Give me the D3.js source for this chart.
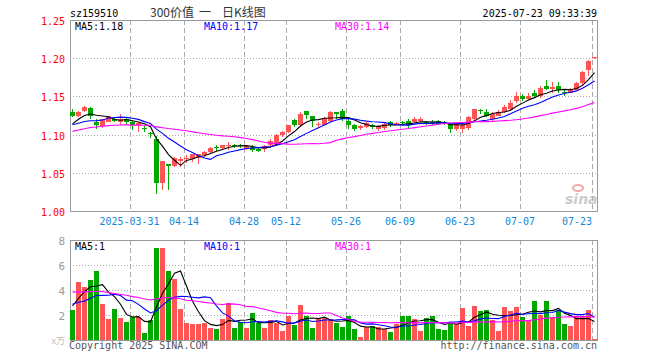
<!DOCTYPE html>
<html>
<head>
<meta charset="utf-8">
<script src="https://cdn.jsdelivr.net/npm/d3@7"></script>
<style>
  body { margin: 0; background: #fff; }
  svg { display: block; }
</style>
</head>
<body>
<div id="chart"></div>
<script>
// trading days shown, 2025-03-17 .. 2025-07-23
const dates = [
  "2025-03-17","2025-03-18","2025-03-19","2025-03-20","2025-03-21","2025-03-24","2025-03-25","2025-03-26","2025-03-27","2025-03-28",
  "2025-03-31","2025-04-01","2025-04-02","2025-04-03","2025-04-07","2025-04-08","2025-04-09","2025-04-10","2025-04-11","2025-04-14",
  "2025-04-15","2025-04-16","2025-04-17","2025-04-18","2025-04-21","2025-04-22","2025-04-23","2025-04-24","2025-04-25","2025-04-28",
  "2025-04-29","2025-04-30","2025-05-06","2025-05-07","2025-05-08","2025-05-09","2025-05-12","2025-05-13","2025-05-14","2025-05-15",
  "2025-05-16","2025-05-19","2025-05-20","2025-05-21","2025-05-22","2025-05-23","2025-05-26","2025-05-27","2025-05-28","2025-05-29",
  "2025-05-30","2025-06-03","2025-06-04","2025-06-05","2025-06-06","2025-06-09","2025-06-10","2025-06-11","2025-06-12","2025-06-13",
  "2025-06-16","2025-06-17","2025-06-18","2025-06-19","2025-06-20","2025-06-23","2025-06-24","2025-06-25","2025-06-26","2025-06-27",
  "2025-06-30","2025-07-01","2025-07-02","2025-07-03","2025-07-04","2025-07-07","2025-07-08","2025-07-09","2025-07-10","2025-07-11",
  "2025-07-14","2025-07-15","2025-07-16","2025-07-17","2025-07-18","2025-07-21","2025-07-22","2025-07-23"
]

const opens = [
  1.130,1.125,1.131,1.135,1.116,1.111,1.117,1.120,1.117,1.120,
  1.117,1.112,1.108,1.102,1.094,1.037,1.061,1.059,1.065,1.068,
  1.068,1.069,1.073,1.077,1.084,1.082,1.085,1.087,1.086,1.081,
  1.084,1.081,1.081,1.086,1.086,1.100,1.103,1.119,1.113,1.131,
  1.124,1.113,1.113,1.118,1.130,1.131,1.118,1.113,1.108,1.110,
  1.113,1.107,1.108,1.117,1.114,1.116,1.118,1.116,1.118,1.117,
  1.117,1.118,1.117,1.114,1.107,1.107,1.108,1.120,1.132,1.130,
  1.120,1.125,1.130,1.134,1.144,1.151,1.146,1.155,1.151,1.164,
  1.160,1.164,1.156,1.155,1.159,1.168,1.185,1.200
]
const highs = [
  1.133,1.131,1.138,1.136,1.121,1.121,1.125,1.123,1.127,1.122,
  1.118,1.117,1.111,1.104,1.098,1.065,1.061,1.071,1.071,1.073,
  1.075,1.075,1.078,1.084,1.086,1.087,1.090,1.088,1.088,1.086,
  1.086,1.082,1.087,1.094,1.101,1.105,1.113,1.120,1.130,1.131,
  1.125,1.117,1.123,1.131,1.130,1.133,1.120,1.114,1.112,1.117,
  1.114,1.112,1.117,1.118,1.116,1.118,1.120,1.123,1.123,1.118,
  1.119,1.119,1.118,1.115,1.115,1.114,1.125,1.134,1.134,1.134,
  1.129,1.132,1.139,1.145,1.156,1.153,1.155,1.158,1.164,1.172,
  1.169,1.169,1.160,1.161,1.169,1.183,1.198,1.202
]
const lows = [
  1.123,1.123,1.130,1.120,1.107,1.109,1.116,1.116,1.113,1.113,
  1.106,1.104,1.103,1.095,1.022,1.028,1.028,1.057,1.058,1.063,
  1.064,1.061,1.071,1.076,1.078,1.080,1.080,1.083,1.082,1.080,
  1.077,1.077,1.077,1.083,1.085,1.097,1.102,1.110,1.111,1.121,
  1.110,1.108,1.112,1.117,1.121,1.118,1.107,1.105,1.106,1.109,
  1.107,1.105,1.106,1.110,1.112,1.112,1.109,1.115,1.116,1.113,
  1.113,1.112,1.113,1.102,1.105,1.102,1.106,1.118,1.127,1.123,
  1.118,1.124,1.128,1.131,1.142,1.144,1.145,1.148,1.148,1.158,
  1.155,1.154,1.151,1.154,1.158,1.164,1.177,1.199
]
const closes = [
  1.125,1.129,1.136,1.125,1.112,1.120,1.124,1.118,1.120,1.117,
  1.112,1.115,1.107,1.101,1.037,1.065,1.059,1.070,1.068,1.069,
  1.074,1.074,1.077,1.083,1.083,1.086,1.086,1.086,1.085,1.085,
  1.080,1.078,1.085,1.091,1.100,1.104,1.112,1.113,1.127,1.126,
  1.118,1.114,1.122,1.129,1.127,1.120,1.113,1.107,1.111,1.115,
  1.110,1.111,1.114,1.113,1.115,1.115,1.113,1.120,1.121,1.114,
  1.114,1.114,1.115,1.107,1.114,1.113,1.123,1.133,1.131,1.124,
  1.127,1.130,1.136,1.142,1.151,1.147,1.151,1.151,1.161,1.160,
  1.162,1.158,1.155,1.159,1.168,1.182,1.196,1.201
]
// volume, in 万
const volumes = [
  2.40,4.67,4.24,4.80,5.52,2.88,1.68,2.48,1.76,1.44,
  1.87,1.81,0.56,1.60,7.36,7.36,5.52,4.88,2.48,1.36,
  1.28,1.28,1.36,0.96,0.88,1.68,2.96,0.96,1.44,0.96,
  2.16,1.36,0.96,1.60,1.36,0.75,1.92,1.20,2.80,1.92,
  0.96,1.68,1.76,1.70,1.39,1.04,1.95,0.91,0.27,1.04,
  1.12,1.04,0.91,0.67,1.31,1.95,1.95,1.71,0.75,1.79,
  1.95,0.91,0.83,1.31,1.31,2.59,1.12,2.75,2.35,2.43,
  1.63,0.75,2.67,2.35,2.67,1.87,1.55,3.15,2.03,3.15,
  1.87,2.43,1.25,1.15,1.87,1.87,2.43,0.10
]
// days before the first shown day, read back from where the MA lines start
const priorCloses = [
  1.078,1.082,1.080,1.090,1.095,1.098,1.101,1.110,1.115,1.118,
  1.114,1.113,1.105,1.100,1.095,1.092,1.096,1.098,1.100,1.118,
  1.110,1.114,1.115,1.110,1.111,1.099,1.111,1.115,1.120
]
const priorVolumes = [
  3.8,4.5,4.1,4.9,3.5,4.2,4.7,3.9,3.4,5.1,
  4.0,4.3,3.7,4.7,5.2,4.6,5.8,4.4,5.0,2.5,
  3.0,3.4,2.6,3.2,2.8,1.6,1.6,2.8,5.2
]

const priceTicks = [1.25, 1.20, 1.15, 1.10, 1.05, 1.00]
const volumeTicks = [8, 6, 4, 2]
const dateTicks = ["2025-03-31","2025-04-14","2025-04-28","2025-05-12","2025-05-26","2025-06-09","2025-06-23","2025-07-07","2025-07-23"]
const maPeriods = [5, 10, 30]
const maColors = ["#000000", "#0000ff", "#ff00ff"]
const titleParts = ["300价值", "一", "日K线图"]

const width = 660, height = 360
const left = 70, right = 597
const pTop = 20, pBottom = 211
const vTop = 240, vBottom = 340
const mono = "'DejaVu Sans Mono', monospace"
const cjk = "'Noto Sans CJK SC', sans-serif"
const red = "#ff5454", green = "#00a800"

const svg = d3.select("#chart").append("svg")
  .attr("width", width)
  .attr("height", height)
  .attr("viewBox", [0, 0, width, height])

const x = d3.scaleBand().domain(dates).range([left - 0.5, right + 0.5]).paddingInner(1 / 6).paddingOuter(1 / 12)
const y = d3.scaleLinear().domain([1.00, 1.25]).range([pBottom, pTop])
const yv = d3.scaleLinear().domain([0, 8]).range([vBottom, vTop])
const cx = d => x(d) + x.bandwidth() / 2
const px = v => Math.round(v) + 0.5

function movingAvg(prior, values, n) {
  const all = prior.concat(values)
  return values.map((v, i) => d3.mean(all.slice(prior.length + i - n + 1, prior.length + i + 1)))
}

const rows = dates.map((d, i) => ({ date: d, o: opens[i], h: highs[i], l: lows[i], c: closes[i], v: volumes[i] }))
const upColor = r => r.c >= r.o ? red : green

// header
svg.append("text").attr("x", 70).attr("y", 17).attr("font-family", mono).attr("font-size", 10).attr("fill", "#000").text("sz159510")
svg.append("g").selectAll("text")
  .data(titleParts)
  .join("text")
  .attr("x", (d, i) => [150, 199, 222][i]).attr("y", 17)
  .attr("font-family", cjk).attr("font-size", 12).attr("fill", "#333")
  .text(d => d)
svg.append("text").attr("x", right).attr("y", 17).attr("text-anchor", "end").attr("font-family", mono).attr("font-size", 10).attr("fill", "#000").text("2025-07-23 09:33:39")

function panel(yScale, top, bottom, ticks, tickFill, tickSize, tickFmt) {
  const g = svg.append("g")
  g.selectAll("line.h")
    .data(ticks.filter(t => Math.round(yScale(t)) > top && Math.round(yScale(t)) < bottom))
    .join("line")
    .attr("x1", left).attr("x2", right)
    .attr("y1", t => px(yScale(t))).attr("y2", t => px(yScale(t)))
    .attr("stroke", "#aaa").attr("stroke-dasharray", "1,2")
  g.selectAll("line.v")
    .data(dateTicks)
    .join("line")
    .attr("x1", d => px(x(d))).attr("x2", d => px(x(d)))
    .attr("y1", top).attr("y2", bottom)
    .attr("stroke", "#aaa").attr("stroke-dasharray", "5,3")
  g.append("rect")
    .attr("x", left + 0.5).attr("y", top + 0.5)
    .attr("width", right - left).attr("height", bottom - top)
    .attr("fill", "none").attr("stroke", "#999")
  g.selectAll("text")
    .data(ticks)
    .join("text")
    .attr("x", 65).attr("y", t => yScale(t) + 5)
    .attr("text-anchor", "end")
    .attr("font-family", mono).attr("font-size", tickSize)
    .attr("fill", tickFill)
    .text(tickFmt)
  return g
}

// price panel
panel(y, pTop, pBottom, priceTicks, "#ff0000", 10, d3.format(".2f"))

svg.append("g").selectAll("text")
  .data(dateTicks)
  .join("text")
  .attr("x", (d, i) => i === 0 ? cx(d) - 3 : x(d))
  .attr("y", 225)
  .attr("text-anchor", (d, i) => i === dateTicks.length - 1 ? "end" : "middle")
  .attr("font-family", mono).attr("font-size", 10)
  .attr("fill", "#1688d8")
  .text((d, i) => i === 0 ? d : d.slice(5))

// sina watermark
const logo = svg.append("g").attr("opacity", 0.6)
logo.append("ellipse").attr("cx", 578).attr("cy", 188).attr("rx", 5).attr("ry", 3)
  .attr("fill", "none").attr("stroke", "#e57373").attr("stroke-width", 2)
logo.append("text").attr("x", 565).attr("y", 204)
  .attr("font-family", "'DejaVu Sans', sans-serif").attr("font-size", 14).attr("font-weight", "bold").attr("font-style", "italic")
  .attr("fill", "#aaa").text("sina")

const candles = svg.append("g").attr("shape-rendering", "crispEdges")
  .selectAll("g")
  .data(rows)
  .join("g")

candles.append("line")
  .attr("x1", d => cx(d.date)).attr("x2", d => cx(d.date))
  .attr("y1", d => y(d.h)).attr("y2", d => y(d.l))
  .attr("stroke", upColor)

candles.append("rect")
  .attr("x", d => x(d.date))
  .attr("width", x.bandwidth())
  .attr("y", d => y(Math.max(d.o, d.c)))
  .attr("height", d => Math.max(1, Math.abs(y(d.o) - y(d.c))))
  .attr("fill", upColor)

const priceMA = maPeriods.map(n => movingAvg(priorCloses, closes, n))
const priceLine = d3.line().x((v, i) => cx(dates[i])).y(v => y(v))
svg.append("g").selectAll("path")
  .data(priceMA)
  .join("path")
  .attr("d", priceLine)
  .attr("fill", "none")
  .attr("stroke", (d, i) => maColors[i])
  .attr("stroke-width", 1.1)

const legendX = [75, 204, 335]
svg.append("g").selectAll("text")
  .data(priceMA)
  .join("text")
  .attr("x", (d, i) => legendX[i]).attr("y", 30)
  .attr("font-family", mono).attr("font-size", 10)
  .attr("fill", (d, i) => maColors[i])
  .text((d, i) => `MA${maPeriods[i]}:${d[d.length - 1].toFixed(2)}`)

// volume panel
panel(yv, vTop, vBottom, volumeTicks, "#999", 11, d => d)

svg.append("text").attr("x", 65).attr("y", 344).attr("text-anchor", "end")
  .attr("font-family", cjk).attr("font-size", 9).attr("fill", "#bbb").text("x万")

svg.append("g").attr("shape-rendering", "crispEdges")
  .selectAll("rect")
  .data(rows)
  .join("rect")
  .attr("x", d => x(d.date))
  .attr("width", x.bandwidth())
  .attr("y", d => yv(d.v))
  .attr("height", d => vBottom - yv(d.v))
  .attr("fill", upColor)

const volMA = maPeriods.map(n => movingAvg(priorVolumes, volumes, n))
const volLine = d3.line().x((v, i) => cx(dates[i])).y(v => yv(v))
svg.append("g").selectAll("path")
  .data(volMA)
  .join("path")
  .attr("d", volLine)
  .attr("fill", "none")
  .attr("stroke", (d, i) => maColors[i])
  .attr("stroke-width", 1.1)

svg.append("g").selectAll("text")
  .data(volMA)
  .join("text")
  .attr("x", (d, i) => legendX[i]).attr("y", 250)
  .attr("font-family", mono).attr("font-size", 10)
  .attr("fill", (d, i) => maColors[i])
  .text((d, i) => `MA${maPeriods[i]}:${Math.floor(d[d.length - 1])}`)

// footer
svg.append("text").attr("x", 69).attr("y", 349).attr("font-family", mono).attr("font-size", 10).attr("fill", "#555").text("Copyright 2025 SINA.COM")
svg.append("text").attr("x", right).attr("y", 349).attr("text-anchor", "end").attr("font-family", mono).attr("font-size", 10).attr("fill", "#555").text("http://finance.sina.com.cn")
</script>
</body>
</html>
